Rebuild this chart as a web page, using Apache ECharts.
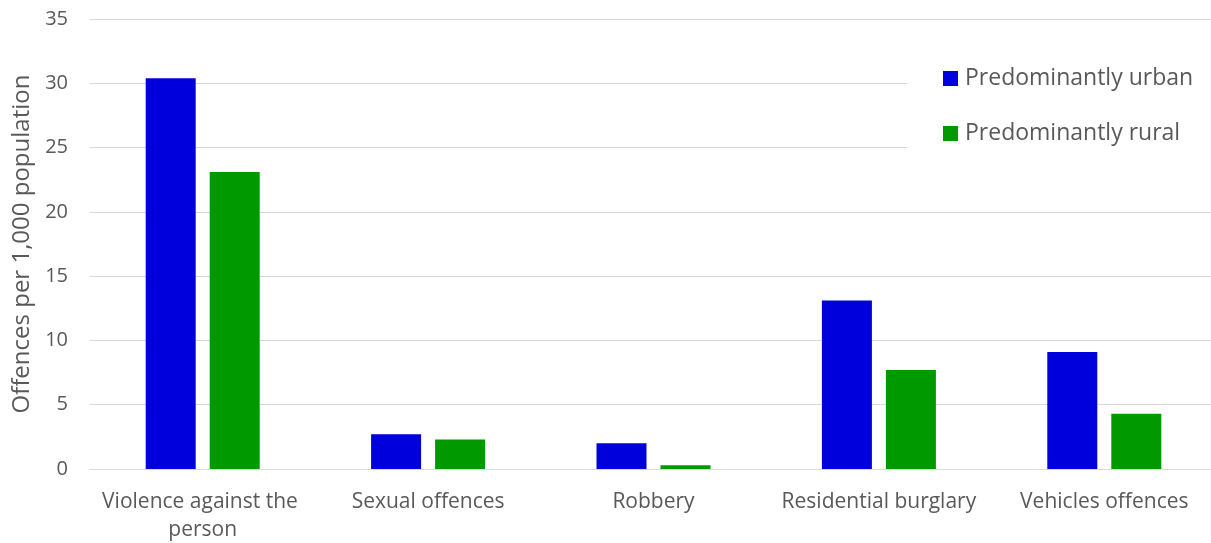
<!DOCTYPE html>
<html>
<head>
<meta charset="utf-8">
<script src="https://cdn.jsdelivr.net/npm/echarts@6/dist/echarts.min.js"></script>
<style>
html,body{margin:0;padding:0;background:#fff;}
#chart{width:1211px;height:543px;}
</style>
</head>
<body>
<div id="chart"></div>
<script>
const categories = ['Violence against the person', 'Sexual offences', 'Robbery', 'Residential burglary', 'Vehicles offences'];
const urbanValues = [30.4, 2.7, 2.0, 13.1, 9.1];
const ruralValues = [23.1, 2.3, 0.3, 7.7, 4.3];
const seriesNames = ['Predominantly urban', 'Predominantly rural'];
const yAxisTitle = 'Offences per 1,000 population';

const FONT = '"Open Sans", sans-serif';
const TXT = '#595959';

const chart = echarts.init(document.getElementById('chart'));
chart.setOption({
  animation: false,
  backgroundColor: '#fff',
  grid: { left: 90, top: 19, right: -6, height: 450, containLabel: false, outerBoundsMode: 'none' },
  legend: {
    orient: 'vertical',
    left: 907,
    top: 50,
    z: 10,
    backgroundColor: '#fff',
    padding: [15, 30, 36, 36],
    itemWidth: 15,
    itemHeight: 15,
    itemGap: 28,
    icon: 'rect',
    textStyle: { fontFamily: FONT, fontSize: 23, color: TXT, lineHeight: 27, padding: [0, 0, 0, 2] },
    data: seriesNames
  },
  xAxis: {
    type: 'category',
    data: categories,
    axisLine: { show: true, lineStyle: { color: '#d9d9d9', width: 1 } },
    axisTick: { show: false },
    axisLabel: {
      interval: 0,
      margin: 19,
      fontFamily: FONT,
      fontSize: 21,
      color: TXT,
      lineHeight: 28,
      width: 215,
      overflow: 'break'
    }
  },
  yAxis: {
    type: 'value',
    min: 0,
    max: 35,
    interval: 5,
    name: yAxisTitle,
    nameLocation: 'middle',
    nameGap: 56,
    nameTextStyle: { fontFamily: FONT, fontSize: 24, color: TXT },
    axisLine: { show: false },
    axisTick: { show: false },
    splitLine: { lineStyle: { color: '#d9d9d9', width: 1 } },
    axisLabel: { margin: 22, fontFamily: FONT, fontSize: 20, color: TXT }
  },
  series: [
    {
      name: seriesNames[0],
      type: 'bar',
      data: urbanValues,
      barWidth: 50,
      barGap: '28%',
      itemStyle: { color: '#0000DD' }
    },
    {
      name: seriesNames[1],
      type: 'bar',
      data: ruralValues,
      barWidth: 50,
      barGap: '28%',
      itemStyle: { color: '#009900' }
    }
  ]
});
</script>
</body>
</html>
